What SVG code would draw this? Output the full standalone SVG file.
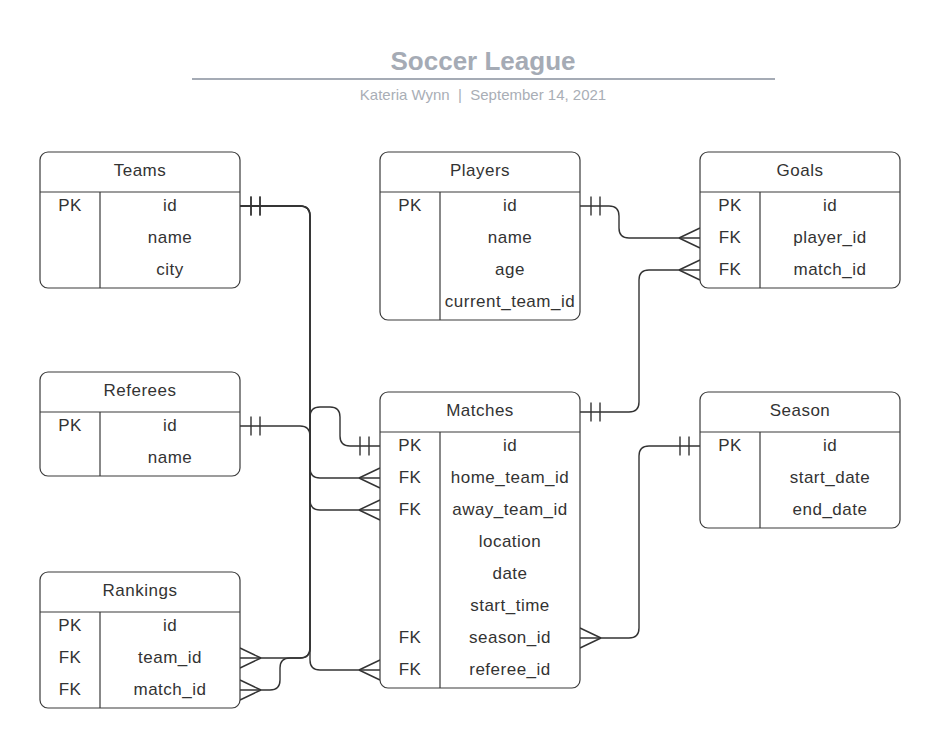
<svg xmlns="http://www.w3.org/2000/svg" width="947" height="748" viewBox="0 0 947 748">
<style>
.box{fill:#fff;stroke:#3a3a3a;stroke-width:1.2}
.ln{stroke:#3a3a3a;stroke-width:1.2;fill:none}
.t{font-family:"Liberation Sans",Arial,sans-serif;font-size:17px;letter-spacing:0.5px;fill:#333;text-anchor:middle}
.c{fill:none;stroke:#333;stroke-width:1.4}
.title{font-family:"Liberation Sans",Arial,sans-serif;font-size:26px;font-weight:bold;fill:#a5abb5;text-anchor:middle}
.sub{font-family:"Liberation Sans",Arial,sans-serif;font-size:15px;fill:#a9aeb6;text-anchor:middle}
</style>
<defs>
<marker id="one" markerUnits="userSpaceOnUse" viewBox="-24 -12 26 24" markerWidth="26" markerHeight="24" refX="0" refY="0" orient="auto-start-reverse" overflow="visible">
<path d="M-11,-9.5 V9.5 M-20,-9.5 V9.5" fill="none" stroke="#333" stroke-width="1.4"/>
</marker>
<marker id="many" markerUnits="userSpaceOnUse" viewBox="-24 -12 26 24" markerWidth="26" markerHeight="24" refX="0" refY="0" orient="auto-start-reverse" overflow="visible">
<path d="M-21,0 L0,-10 M-21,0 L0,10" fill="none" stroke="#333" stroke-width="1.4"/>
</marker>
</defs>
<rect width="947" height="748" fill="#fff"/>
<g id="header">
<text class="title" x="483" y="70">Soccer League</text>
<line x1="192" y1="79" x2="775" y2="79" stroke="#a5abb5" stroke-width="2"/>
<text class="sub" x="483" y="100">Kateria Wynn &#160;| &#160;September 14, 2021</text>
</g>
<g id="connectors">
<path class="c" d="M240,206 H300 Q310,206 310,216 V468 Q310,478 320,478 H380" marker-start="url(#one)" marker-end="url(#many)"/>
<path class="c" d="M240,206 H300 Q310,206 310,216 V500 Q310,510 320,510 H380" marker-end="url(#many)"/>
<path class="c" d="M240,658 H300 Q310,658 310,648 V216 Q310,206 300,206 H240" marker-start="url(#many)" marker-end="url(#one)"/>
<path class="c" d="M240,426 H300 Q310,426 310,436 V660 Q310,670 320,670 H380" marker-start="url(#one)" marker-end="url(#many)"/>
<path class="c" d="M240,690 H270 Q280,690 280,680 V668 Q280,658 290,658 H300 Q310,658 310,648 V417 Q310,407 320,407 H330 Q340,407 340,417 V436 Q340,446 350,446 H380" marker-start="url(#many)" marker-end="url(#one)"/>
<path class="c" d="M580,206 H609 Q619,206 619,216 V228 Q619,238 629,238 H700" marker-start="url(#one)" marker-end="url(#many)"/>
<path class="c" d="M580,412 H629 Q639,412 639,402 V280 Q639,270 649,270 H700" marker-start="url(#one)" marker-end="url(#many)"/>
<path class="c" d="M580,638 H629 Q639,638 639,628 V456 Q639,446 649,446 H700" marker-start="url(#many)" marker-end="url(#one)"/>
</g>
<g id="teams">
<rect class="box" x="40" y="152" width="200" height="136" rx="8"/>
<path class="ln" d="M40,192 H240 M100,192 V288"/>
<text class="t" x="140" y="176">Teams</text>
<text class="t" x="70" y="211">PK</text><text class="t" x="170" y="211">id</text>
<text class="t" x="170" y="243">name</text>
<text class="t" x="170" y="275">city</text>
</g>
<g id="players">
<rect class="box" x="380" y="152" width="200" height="168" rx="8"/>
<path class="ln" d="M380,192 H580 M440,192 V320"/>
<text class="t" x="480" y="176">Players</text>
<text class="t" x="410" y="211">PK</text><text class="t" x="510" y="211">id</text>
<text class="t" x="510" y="243">name</text>
<text class="t" x="510" y="275">age</text>
<text class="t" x="510" y="307">current_team_id</text>
</g>
<g id="goals">
<rect class="box" x="700" y="152" width="200" height="136" rx="8"/>
<path class="ln" d="M700,192 H900 M760,192 V288"/>
<text class="t" x="800" y="176">Goals</text>
<text class="t" x="730" y="211">PK</text><text class="t" x="830" y="211">id</text>
<text class="t" x="730" y="243">FK</text><text class="t" x="830" y="243">player_id</text>
<text class="t" x="730" y="275">FK</text><text class="t" x="830" y="275">match_id</text>
</g>
<g id="referees">
<rect class="box" x="40" y="372" width="200" height="104" rx="8"/>
<path class="ln" d="M40,412 H240 M100,412 V476"/>
<text class="t" x="140" y="396">Referees</text>
<text class="t" x="70" y="431">PK</text><text class="t" x="170" y="431">id</text>
<text class="t" x="170" y="463">name</text>
</g>
<g id="matches">
<rect class="box" x="380" y="392" width="200" height="296" rx="8"/>
<path class="ln" d="M380,432 H580 M440,432 V688"/>
<text class="t" x="480" y="416">Matches</text>
<text class="t" x="410" y="451">PK</text><text class="t" x="510" y="451">id</text>
<text class="t" x="410" y="483">FK</text><text class="t" x="510" y="483">home_team_id</text>
<text class="t" x="410" y="515">FK</text><text class="t" x="510" y="515">away_team_id</text>
<text class="t" x="510" y="547">location</text>
<text class="t" x="510" y="579">date</text>
<text class="t" x="510" y="611">start_time</text>
<text class="t" x="410" y="643">FK</text><text class="t" x="510" y="643">season_id</text>
<text class="t" x="410" y="675">FK</text><text class="t" x="510" y="675">referee_id</text>
</g>
<g id="season">
<rect class="box" x="700" y="392" width="200" height="136" rx="8"/>
<path class="ln" d="M700,432 H900 M760,432 V528"/>
<text class="t" x="800" y="416">Season</text>
<text class="t" x="730" y="451">PK</text><text class="t" x="830" y="451">id</text>
<text class="t" x="830" y="483">start_date</text>
<text class="t" x="830" y="515">end_date</text>
</g>
<g id="rankings">
<rect class="box" x="40" y="572" width="200" height="136" rx="8"/>
<path class="ln" d="M40,612 H240 M100,612 V708"/>
<text class="t" x="140" y="596">Rankings</text>
<text class="t" x="70" y="631">PK</text><text class="t" x="170" y="631">id</text>
<text class="t" x="70" y="663">FK</text><text class="t" x="170" y="663">team_id</text>
<text class="t" x="70" y="695">FK</text><text class="t" x="170" y="695">match_id</text>
</g>
</svg>
